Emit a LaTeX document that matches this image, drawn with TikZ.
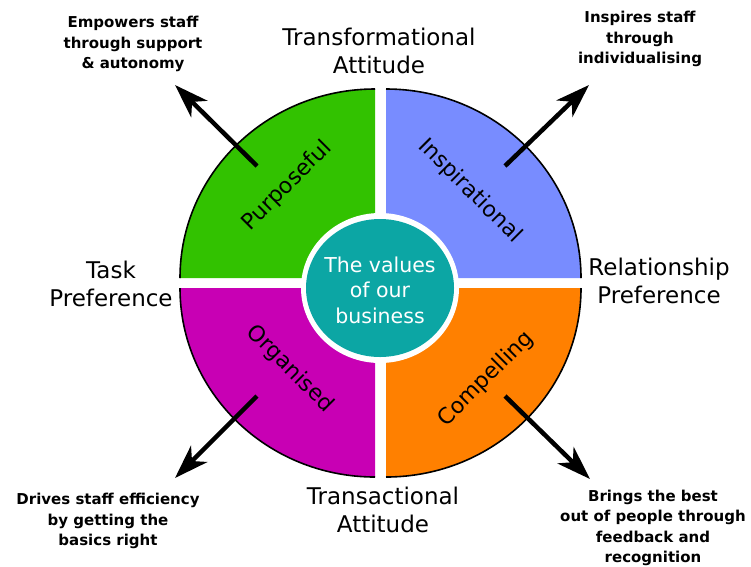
\documentclass[tikz,border=0pt]{standalone}
\usepackage{fontspec}
\setmainfont{DejaVu Sans}
\usetikzlibrary{arrows.meta}
\definecolor{qgreen}{RGB}{50,194,0}
\definecolor{qblue}{RGB}{120,140,255}
\definecolor{qpurple}{RGB}{200,0,180}
\definecolor{qorange}{RGB}{255,128,0}
\definecolor{qteal}{RGB}{12,166,164}
\tikzset{
  rim/.style={draw=black, line width=1.6pt},
  heading/.style={align=center, inner sep=0pt, font=\fontsize{23}{28}\selectfont},
  quadlabel/.style={inner sep=0pt, font=\fontsize{22}{26}\selectfont},
  note/.style={align=center, inner sep=0pt, font=\fontsize{15}{20.5}\selectfont\bfseries},
  pointer/.style={line width=4.5pt, -{Stealth[length=34pt,width=23pt,inset=10pt]}},
}
\begin{document}
\begin{tikzpicture}[x=1pt,y=-1pt]
\useasboundingbox (0,0) rectangle (751,566);

% four quadrants of the wheel, separated by white gaps
\fill[qgreen]  (375,278) -- (180,278) arc[start angle=180, end angle=270, x radius=195, y radius=189] -- cycle;
\draw[rim]     (180,278) arc[start angle=180, end angle=270, x radius=195, y radius=189];
\fill[qblue]   (386,278) -- (386,89) arc[start angle=270, end angle=360, x radius=195, y radius=189] -- cycle;
\draw[rim]     (386,89) arc[start angle=270, end angle=360, x radius=195, y radius=189];
\fill[qpurple] (375,288) -- (180,288) arc[start angle=180, end angle=90, x radius=195, y radius=189] -- cycle;
\draw[rim]     (180,288) arc[start angle=180, end angle=90, x radius=195, y radius=189];
\fill[qorange] (386,288) -- (581,288) arc[start angle=0, end angle=90, x radius=195, y radius=189] -- cycle;
\draw[rim]     (581,288) arc[start angle=0, end angle=90, x radius=195, y radius=189];

% hub
\fill[white] (380,288) ellipse[x radius=79, y radius=75];
\fill[qteal] (380,288) ellipse[x radius=74, y radius=69];
\node[align=center, text=white, inner sep=0pt, font=\fontsize{20.5}{25.5}\selectfont] (hub) at (380,290) {The values\\of our\\business};

% quadrant names
\node[quadlabel, rotate=45]  (purposeful)    at (287,186) {Purposeful};
\node[quadlabel, rotate=-45] (inspirational) at (470,191) {Inspirational};
\node[quadlabel, rotate=-45] (organised)     at (290,369) {Organised};
\node[quadlabel, rotate=45]  (compelling)    at (486,379) {Compelling};

% axis headings
\node[heading] (transformational) at (379,51)  {Transformational\\Attitude};
\node[heading] (transactional)    at (383,510) {Transactional\\Attitude};
\node[heading] (task)             at (111,284) {Task\\Preference};
\node[heading] (relationship)     at (659,281) {Relationship\\Preference};

% outcome notes
\node[note] (empowers) at (133,44)  {Empowers staff\\through support\\\& autonomy};
\node[note] (inspires) at (640,39)  {Inspires staff\\through\\individualising};
\node[note] (drives)   at (108,521) {Drives staff efficiency\\by getting the\\basics right};
\node[note] (brings)   at (653,528) {Brings the best\\out of people through\\feedback and\\recognition};

% arrows leading out of each quadrant
\coordinate (tlstart) at (257,166); \coordinate (tltip) at (175,85);
\coordinate (trstart) at (505,166); \coordinate (trtip) at (589,85);
\coordinate (blstart) at (257,396); \coordinate (bltip) at (175,478);
\coordinate (brstart) at (505,396); \coordinate (brtip) at (590,479);
\draw[pointer] (tlstart) -- (tltip);
\draw[pointer] (trstart) -- (trtip);
\draw[pointer] (blstart) -- (bltip);
\draw[pointer] (brstart) -- (brtip);
\end{tikzpicture}
\end{document}
